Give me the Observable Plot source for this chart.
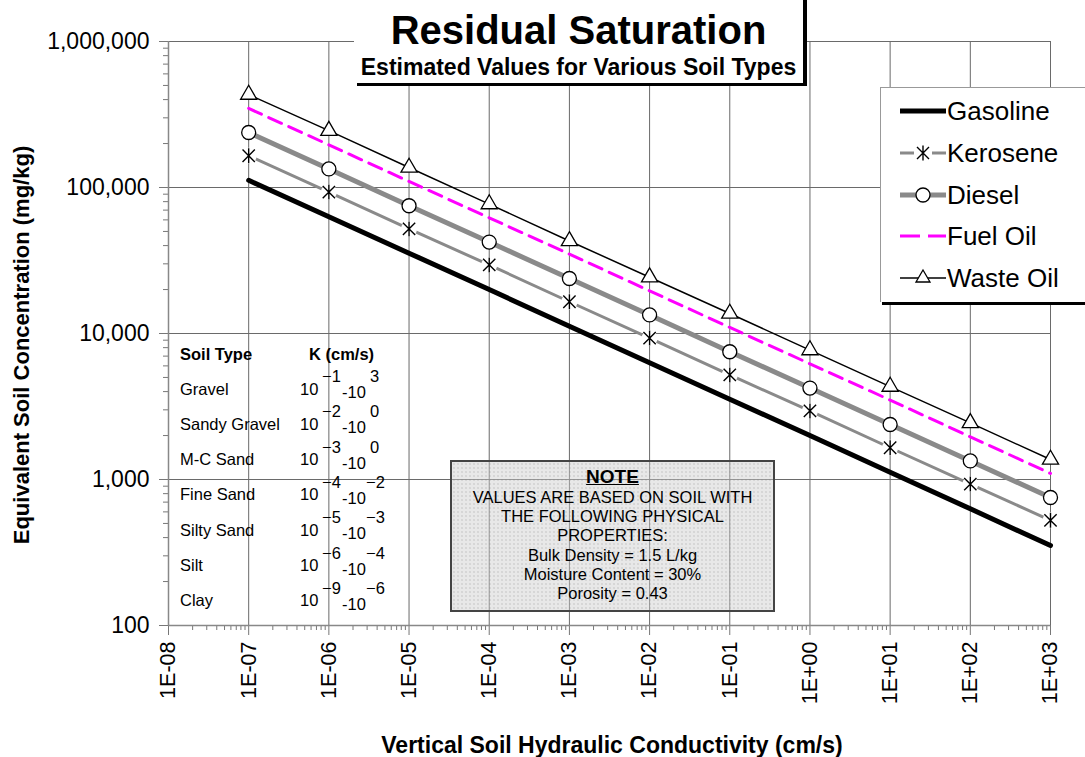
<!DOCTYPE html>
<html><head><meta charset="utf-8">
<script src="https://cdn.jsdelivr.net/npm/d3@7"></script>
<script src="https://cdn.jsdelivr.net/npm/@observablehq/plot@0.6"></script>
<style>
body{margin:0;background:#fff;font-family:"Liberation Sans",Arial,sans-serif;}
#wrap{position:relative;width:1085px;height:757px;overflow:hidden;background:#fff;}
#wrap > svg{position:absolute;left:0;top:0;}
.ov{position:absolute;color:#000;white-space:nowrap;}
</style></head><body><div id="wrap"></div>
<script>
// ---- data ----
const conductivity = [1e-7, 1e-6, 1e-5, 1e-4, 1e-3, 1e-2, 1e-1, 1e0, 1e1, 1e2, 1e3];
const gasoline  = [112000, 63000, 35500, 20000, 11200, 6300, 3550, 2000, 1120, 630, 353];
const kerosene  = [165000, 93000, 52000, 29500, 16500, 9300, 5200, 2950, 1650, 930, 525];
const diesel    = [238000, 134000, 75000, 42300, 23800, 13400, 7500, 4230, 2380, 1340, 753];
const fuelOil   = [348000, 196000, 110000, 62000, 35000, 19600, 11000, 6200, 3500, 1960, 1100];
const wasteOil  = [433000, 245000, 137000, 77000, 43000, 24300, 13700, 7700, 4330, 2440, 1370];
const seriesNames = ["Gasoline", "Kerosene", "Diesel", "Fuel Oil", "Waste Oil"];
const xTicks = [1e-8, 1e-7, 1e-6, 1e-5, 1e-4, 1e-3, 1e-2, 1e-1, 1e0, 1e1, 1e2, 1e3];
const yTicks = [100, 1000, 10000, 100000, 1000000];
const soilTypes = ["Gravel", "Sandy Gravel", "M-C Sand", "Fine Sand", "Silty Sand", "Silt", "Clay"];
const kLowExp  = ["\u22121", "\u22122", "\u22123", "\u22124", "\u22125", "\u22126", "\u22129"];
const kHighExp = ["3", "0", "0", "\u22122", "\u22123", "\u22124", "\u22126"];
const noteLines = ["VALUES ARE BASED ON SOIL WITH", "THE FOLLOWING PHYSICAL", "PROPERTIES:",
  "Bulk Density = 1.5 L/kg", "Moisture Content = 30%", "Porosity = 0.43"];

const seriesValues = [gasoline, kerosene, diesel, fuelOil, wasteOil];
const data = seriesNames.flatMap((s, j) => conductivity.map((k, i) => ({series: s, k, c: seriesValues[j][i]})));
const of = s => data.filter(d => d.series === s);

const minorX = xTicks.slice(0, -1).flatMap(t => [2,3,4,5,6,7,8,9].map(m => m * t));
const minorY = yTicks.slice(0, -1).flatMap(t => [2,3,4,5,6,7,8,9].map(m => m * t));
const fmtX = d => { const e = Math.round(Math.log10(d)); return "1E" + (e < 0 ? "-" : "+") + String(Math.abs(e)).padStart(2, "0"); };

// Excel-style "star" marker: an X with a vertical stroke
const starSymbol = {
  draw(ctx, size) {
    const r = Math.sqrt(size / Math.PI), a = r * 0.82;
    ctx.moveTo(-a, -a); ctx.lineTo(a, a);
    ctx.moveTo(a, -a); ctx.lineTo(-a, a);
    ctx.moveTo(0, -r); ctx.lineTo(0, r);
  }
};

const grid = "#6a6a6a";
const chart = Plot.plot({
  width: 1085, height: 757,
  marginLeft: 168, marginRight: 35, marginTop: 41, marginBottom: 132,
  style: {fontFamily: "'Liberation Sans', Arial, sans-serif", background: "transparent", color: "#000"},
  x: {type: "log", domain: [1e-8, 1e3]},
  y: {type: "log", domain: [100, 1e6]},
  marks: [
    Plot.gridX(xTicks, {stroke: grid, strokeOpacity: 1, strokeWidth: 1}),
    Plot.gridY(yTicks, {stroke: grid, strokeOpacity: 1, strokeWidth: 1}),
    Plot.axisY(minorY, {tickSize: 5, tickFormat: () => "", stroke: "#777", label: null}),
    Plot.axisY(yTicks, {tickSize: 9, tickPadding: 10, tickFormat: d3.format(","), fontSize: 23, stroke: "#777", label: null}),
    Plot.axisX(minorX, {tickSize: 5, tickFormat: () => "", stroke: "#777", label: null}),
    Plot.axisX(xTicks, {tickSize: 10, tickPadding: 6, tickRotate: -90, tickFormat: fmtX, fontSize: 21.5, stroke: "#777", label: null}),
    Plot.ruleX([1e-8], {stroke: "#888", strokeWidth: 1.5}),
    Plot.ruleY([100], {stroke: "#888", strokeWidth: 1.5}),
    Plot.line(of("Gasoline"), {x: "k", y: "c", stroke: "#000", strokeWidth: 5}),
    Plot.line(of("Kerosene"), {x: "k", y: "c", stroke: "#8a8a8a", strokeWidth: 3}),
    Plot.dot(of("Kerosene"), {x: "k", y: "c", r: 8, fill: "#fff"}),
    Plot.line(of("Diesel"), {x: "k", y: "c", stroke: "#8a8a8a", strokeWidth: 5}),
    Plot.line(of("Fuel Oil"), {x: "k", y: "c", stroke: "#ff00ff", strokeWidth: 3, strokeDasharray: "14,8"}),
    Plot.line(of("Waste Oil"), {x: "k", y: "c", stroke: "#000", strokeWidth: 1.5}),
    Plot.dot(of("Kerosene"), {x: "k", y: "c", symbol: starSymbol, r: 7.5, stroke: "#000", strokeWidth: 1.4}),
    Plot.dot(of("Diesel"), {x: "k", y: "c", symbol: "circle", r: 7, fill: "#fff", stroke: "#000", strokeWidth: 1.3}),
    Plot.dot(of("Waste Oil"), {x: "k", y: "c", symbol: "triangle", r: 6, fill: "#fff", stroke: "#000", strokeWidth: 1.3})
  ]
});
const wrap = document.getElementById("wrap");
wrap.appendChild(chart);

function ov(html, css) {
  const d = document.createElement("div");
  d.className = "ov";
  d.style.cssText = css;
  d.innerHTML = html;
  wrap.appendChild(d);
  return d;
}

// Title box with shadow
ov("", "left:357px;top:-5px;width:450px;height:91px;background:#000;");
ov("", "left:354px;top:-5px;width:449px;height:88px;background:#fff;");
ov("Residual Saturation", "left:354px;width:449px;top:8px;text-align:center;font-weight:bold;font-size:40px;line-height:44px;");
ov("Estimated Values for Various Soil Types", "left:354px;width:449px;top:54px;text-align:center;font-weight:bold;font-size:23px;line-height:26px;");

// Axis titles
ov("Equivalent Soil Concentration (mg/kg)", "left:22px;top:345px;transform:translate(-50%,-50%) rotate(-90deg);font-weight:bold;font-size:22px;");
ov("Vertical Soil Hydraulic Conductivity (cm/s)", "left:612px;top:745px;transform:translate(-50%,-50%);font-weight:bold;font-size:23px;");

// Legend
ov("", "left:882px;top:90px;width:210px;height:215px;background:#000;");
ov("", "left:880px;top:87px;width:210px;height:215px;background:#fff;border-left:1px solid #999;border-top:1px solid #999;box-sizing:border-box;");
const legendSamples = {
  "Gasoline": `<line x1="0" y1="10" x2="46" y2="10" stroke="#000" stroke-width="5"/>`,
  "Kerosene": `<line x1="0" y1="10" x2="46" y2="10" stroke="#8a8a8a" stroke-width="3"/><rect x="14" y="2" width="18" height="16" fill="#fff"/><path d="M17,4L29,16M29,4L17,16M23,2.5L23,17.5" stroke="#000" stroke-width="1.4"/>`,
  "Diesel": `<line x1="0" y1="10" x2="46" y2="10" stroke="#8a8a8a" stroke-width="5"/><circle cx="23" cy="10" r="7" fill="#fff" stroke="#000" stroke-width="1.3"/>`,
  "Fuel Oil": `<line x1="0" y1="10" x2="46" y2="10" stroke="#ff00ff" stroke-width="3" stroke-dasharray="20,8"/>`,
  "Waste Oil": `<line x1="0" y1="10" x2="46" y2="10" stroke="#000" stroke-width="1.5"/><path d="M23,2L30,14L16,14Z" fill="#fff" stroke="#000" stroke-width="1.3"/>`
};
seriesNames.forEach((s, i) => {
  const y = 111 + i * 41.8;
  ov(`<svg width="46" height="20" style="display:block">${legendSamples[s]}</svg>`, `left:900px;top:${y - 10}px;`);
  ov(s, `left:947px;top:${y - 16}px;font-size:26px;line-height:32px;`);
});

// Soil table
const fs = 16.5;
ov("Soil Type", `left:180px;top:345px;font-weight:bold;font-size:${fs}px;line-height:19px;`);
ov("K (cm/s)", `left:309px;top:345px;font-weight:bold;font-size:${fs}px;line-height:19px;`);
soilTypes.forEach((s, i) => {
  const y = 389 + i * 35.3;
  ov(s, `left:180px;top:${y - 9.5}px;font-size:${fs}px;line-height:19px;`);
  ov("10", `left:300px;top:${y - 9.5}px;font-size:${fs}px;line-height:19px;`);
  ov(kLowExp[i], `left:322px;top:${y - 22}px;font-size:${fs}px;line-height:19px;`);
  ov("-10", `left:342px;top:${y - 6}px;font-size:${fs}px;line-height:19px;`);
  ov(kHighExp[i], `left:${kHighExp[i].length > 1 ? 366 : 370}px;top:${y - 22}px;font-size:${fs}px;line-height:19px;`);
});

// Note box
ov("", "left:450px;top:460px;width:325px;height:152px;box-sizing:border-box;border:2px solid #444;background-color:rgba(205,205,205,0.45);background-image:radial-gradient(rgba(120,120,120,0.35) 0.6px, transparent 0.8px);background-size:4px 4px;");
ov("NOTE", "left:450px;width:325px;top:466px;text-align:center;font-weight:bold;font-size:19px;line-height:22px;text-decoration:underline;");
noteLines.forEach((t, i) => {
  ov(t, `left:450px;width:325px;top:${488 + i * 19.2}px;text-align:center;font-size:16.5px;line-height:19px;`);
});
</script></body></html>
